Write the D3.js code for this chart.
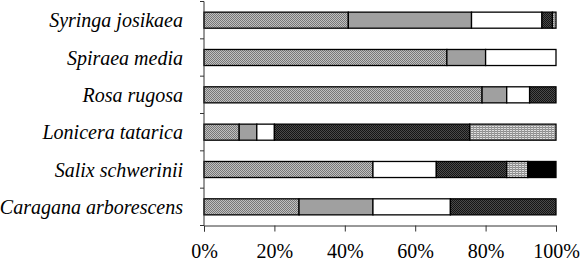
<!DOCTYPE html>
<html>
<head>
<meta charset="utf-8">
<script src="https://cdn.jsdelivr.net/npm/d3@7"></script>
<style>
  body { margin: 0; background: #fff; }
  svg { display: block; }
</style>
</head>
<body>
<div id="chart"></div>
<script>
const categories = ["Syringa josikaea", "Spiraea media", "Rosa rugosa", "Lonicera tatarica", "Salix schwerinii", "Caragana arborescens"];
const s1 = [41, 69, 79, 10, 48, 27];
const s2 = [35, 11, 7, 5, 0, 21];
const s3 = [20, 20, 6.5, 5, 18, 22];
const s4 = [3, 0, 7.5, 55.5, 20, 30];
const s5 = [1, 0, 0, 24.5, 6, 0];
const s6 = [0, 0, 0, 0, 8, 0];
const seriesKeys = ["s1", "s2", "s3", "s4", "s5", "s6"];
const tickLabels = ["0%", "20%", "40%", "60%", "80%", "100%"];

const width = 581;
const height = 265;

const svg = d3.select('#chart')
  .append('svg')
  .attr('width', width)
  .attr('height', height);

// motifs de remplissage
const defs = svg.append('defs');

const p1 = defs.append('pattern').attr('id', 'p1')
  .attr('width', 2).attr('height', 2).attr('patternUnits', 'userSpaceOnUse');
p1.append('rect').attr('width', 2).attr('height', 2).attr('fill', '#c0c0c0');
p1.append('rect').attr('width', 1).attr('height', 1).attr('fill', '#777');
p1.append('rect').attr('x', 1).attr('y', 1).attr('width', 1).attr('height', 1).attr('fill', '#777');

const p4 = defs.append('pattern').attr('id', 'p4')
  .attr('width', 2).attr('height', 2).attr('patternUnits', 'userSpaceOnUse');
p4.append('rect').attr('width', 2).attr('height', 2).attr('fill', '#4a4a4a');
p4.append('rect').attr('width', 1).attr('height', 1).attr('fill', '#151515');
p4.append('rect').attr('x', 1).attr('y', 1).attr('width', 1).attr('height', 1).attr('fill', '#151515');

const p5 = defs.append('pattern').attr('id', 'p5')
  .attr('width', 3).attr('height', 2).attr('patternUnits', 'userSpaceOnUse');
p5.append('rect').attr('width', 3).attr('height', 2).attr('fill', '#e0e0e0');
p5.append('rect').attr('y', 1).attr('width', 3).attr('height', 1).attr('fill', '#8c8c8c');
p5.append('rect').attr('x', 2).attr('width', 1).attr('height', 2).attr('fill', '#9a9a9a');

const fills = {s1: 'url(#p1)', s2: '#a0a0a0', s3: '#ffffff', s4: 'url(#p4)', s5: 'url(#p5)', s6: '#000000'};

const data = categories.map((c, i) => ({
  name: c, s1: s1[i], s2: s2[i], s3: s3[i], s4: s4[i], s5: s5[i], s6: s6[i]
}));

const stack = d3.stack().keys(seriesKeys);
const stacked = stack(data);

const x = d3.scaleLinear().domain([0, 100]).range([204, 556]);
const y = d3.scaleBand().domain(categories).range([1.5, 225.5]).paddingInner(0.57).paddingOuter(0.285);

const layers = svg.append('g')
  .selectAll('g')
  .data(stacked)
  .enter()
  .append('g')
  .attr('fill', d => fills[d.key]);

layers.selectAll('rect')
  .data(d => d.filter(p => p[1] - p[0] > 0))
  .enter()
  .append('rect')
  .attr('x', d => x(d[0]))
  .attr('y', d => y(d.data.name))
  .attr('width', d => x(d[1]) - x(d[0]))
  .attr('height', y.bandwidth())
  .attr('stroke', '#000')
  .attr('stroke-width', 1.3);

// axe vertical avec graduations aux limites des catégories
const yAxisG = svg.append('g');
yAxisG.append('line')
  .attr('x1', 204).attr('x2', 204)
  .attr('y1', 1.5).attr('y2', 225.5)
  .attr('stroke', '#333').attr('stroke-width', 1);
const step = y.step();
yAxisG.selectAll('.ytick')
  .data(d3.range(categories.length + 1))
  .enter()
  .append('line')
  .attr('x1', 200).attr('x2', 204)
  .attr('y1', i => 1.5 + i * step)
  .attr('y2', i => 1.5 + i * step)
  .attr('stroke', '#333');

svg.append('g')
  .selectAll('text')
  .data(categories)
  .enter()
  .append('text')
  .attr('x', 183)
  .attr('y', d => y(d) + y.bandwidth() / 2)
  .attr('dy', '0.35em')
  .attr('text-anchor', 'end')
  .style('font-family', '"Liberation Serif", "DejaVu Serif", serif')
  .style('font-style', 'italic')
  .style('font-size', '20px')
  .text(d => d);

// axe horizontal
const xAxis = d3.axisBottom(x)
  .tickValues([0, 20, 40, 60, 80, 100])
  .tickFormat((d, i) => tickLabels[i])
  .tickSize(6)
  .tickPadding(12);

const xg = svg.append('g')
  .attr('transform', 'translate(0,225.5)')
  .call(xAxis);
xg.select('.domain').attr('stroke', '#333');
xg.selectAll('.tick line').attr('stroke', '#333');
xg.selectAll('text')
  .style('font-family', '"Liberation Serif", "DejaVu Serif", serif')
  .style('font-size', '20px')
  .attr('fill', '#000');
</script>
</body>
</html>
